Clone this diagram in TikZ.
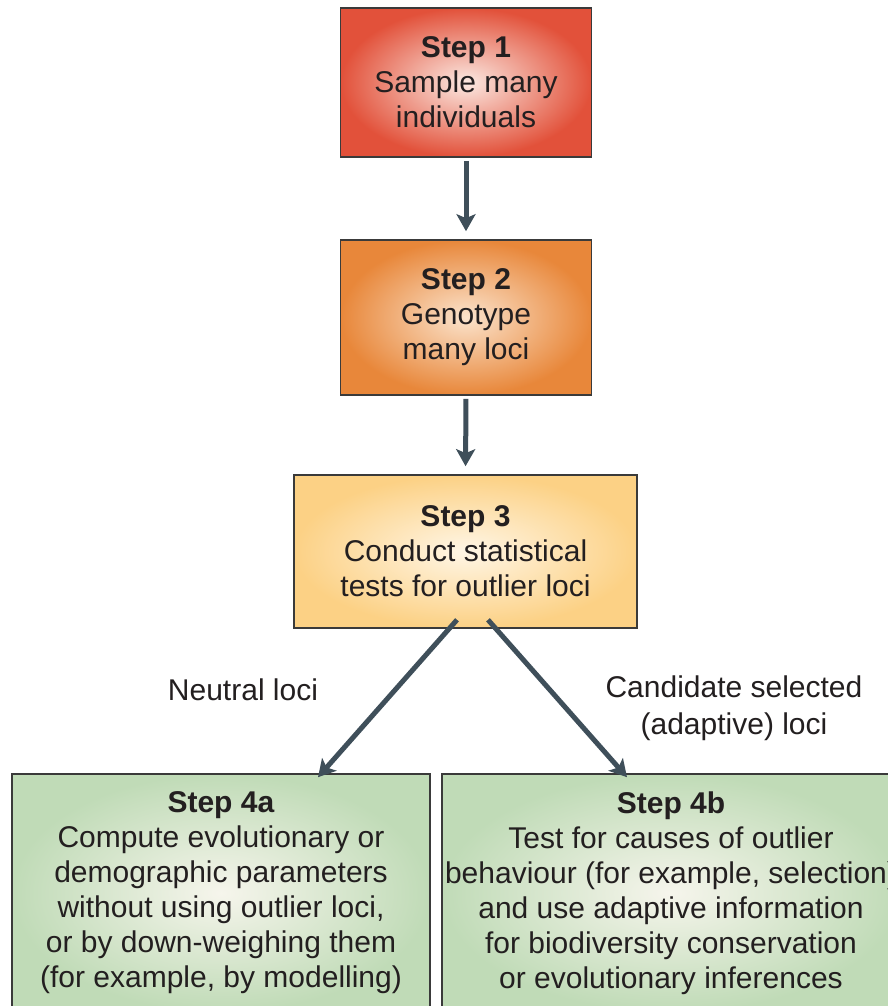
\documentclass[tikz,border=0pt]{standalone}
\usepackage{fontspec}
\setmainfont{Liberation Sans}
\usetikzlibrary{arrows.meta}
\definecolor{edgegray}{HTML}{3A3A3A}
\definecolor{arrowslate}{HTML}{3F4F5A}
\definecolor{inktext}{HTML}{231F20}
\definecolor{redout}{HTML}{E2513A}
\definecolor{redin}{HTML}{FBE9E2}
\definecolor{orangeout}{HTML}{E8873A}
\definecolor{orangein}{HTML}{FBE3CC}
\definecolor{yellowout}{HTML}{FCD185}
\definecolor{yellowin}{HTML}{FFF6E6}
\definecolor{greenout}{HTML}{C0DBB7}
\definecolor{greenin}{HTML}{F6F5EC}
\begin{document}
\begin{tikzpicture}[x=1pt,y=-1pt,
  stepbox/.style={draw=edgegray, line width=1.6pt, inner sep=0pt,
    text=inktext, align=center, font=\fontsize{30}{35}\selectfont},
  flow/.style={draw=arrowslate, line width=5pt,
    -{Stealth[length=17pt,width=19pt,inset=4pt]}},
  tag/.style={text=inktext, align=center, font=\fontsize{30}{37}\selectfont}]
\useasboundingbox (0,0) rectangle (888,1006);
\clip (0,0) rectangle (888,1006);
\fill[white] (0,0) rectangle (888,1006);

% the four stages
\node[stepbox, minimum width=251pt, minimum height=149pt,
  inner color=redin, outer color=redout] (s1) at (466,82.5)
  {\textbf{Step 1}\\Sample many\\individuals};
\node[stepbox, minimum width=251pt, minimum height=155pt,
  inner color=orangein, outer color=orangeout] (s2) at (466,317.5)
  {\textbf{Step 2}\\Genotype\\many loci};
\node[stepbox, minimum width=343pt, minimum height=153pt,
  inner color=yellowin, outer color=yellowout] (s3) at (465.5,551.5)
  {\textbf{Step 3}\\Conduct statistical\\tests for outlier loci};
\node[stepbox, minimum width=418pt, minimum height=238pt,
  inner color=greenin, outer color=greenout] (s4a) at (221,893)
  {\textbf{Step 4a}\\Compute evolutionary or\\demographic parameters\\without using outlier loci,\\or by down-weighing them\\(for example, by modelling)};
\node[stepbox, minimum width=458pt, minimum height=238pt,
  inner color=greenin, outer color=greenout] (s4b) at (671,893)
  {\textbf{Step 4b}\\Test for causes of outlier\\behaviour (for example, selection)\\and use adaptive information\\for biodiversity conservation\\or evolutionary inferences};

% branch labels
\node[tag] (neutral) at (243,690) {Neutral loci};
\node[tag] (cand) at (734,708) {Candidate selected\\(adaptive) loci};

% connectors
\draw[flow, shorten <=3pt, shorten >=8pt] (s1.south) -- (s2.north);
\draw[flow, shorten <=3pt, shorten >=8pt] (s2.south) -- (s3.north);
\draw[flow] ([xshift=-8.5pt,yshift=9pt]s3.south) -- ([xshift=97pt,yshift=-4pt]s4a.north);
\draw[flow] ([xshift=22.5pt,yshift=9pt]s3.south) -- ([xshift=-44pt,yshift=-4pt]s4b.north);
\end{tikzpicture}
\end{document}
